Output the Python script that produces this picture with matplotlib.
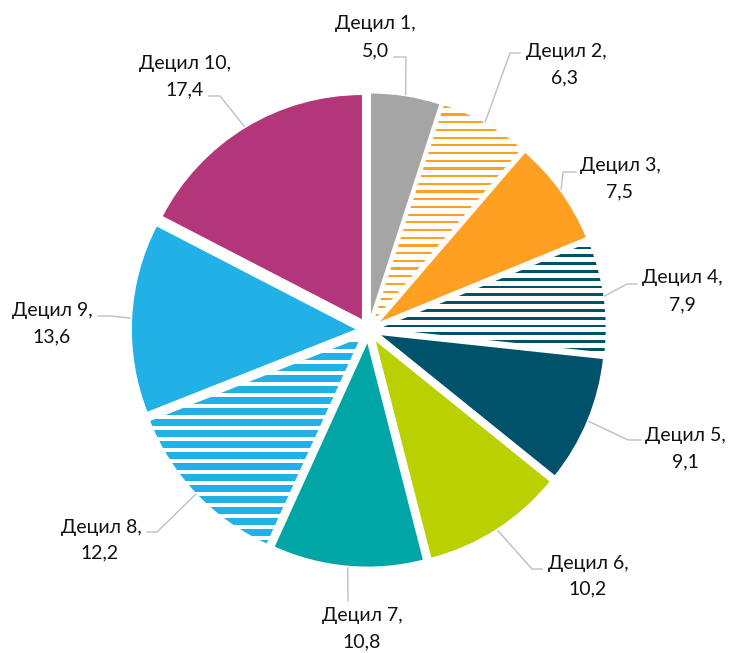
import matplotlib
matplotlib.use('Agg')
import matplotlib.pyplot as plt
import numpy as np
from matplotlib.patches import Rectangle

# ---- data ----
labels = ['Децил 1', 'Децил 2', 'Децил 3', 'Децил 4', 'Децил 5',
          'Децил 6', 'Децил 7', 'Децил 8', 'Децил 9', 'Децил 10']
values = [5.0, 6.3, 7.5, 7.9, 9.1, 10.2, 10.8, 12.2, 13.6, 17.4]
value_text = ['5,0', '6,3', '7,5', '7,9', '9,1', '10,2', '10,8', '12,2', '13,6', '17,4']

# ---- style ----
colors = ['#A5A5A5', '#FFA022', '#FFA022', '#00526A', '#00526A',
          '#BAD000', '#00A5A6', '#22B1E7', '#22B1E7', '#B3367A']
# stripe (period_px, thickness_px) for hatched slices
stripes = {1: (7.7, 2.2), 3: (7.8, 2.8), 7: (11.0, 6.8)}

W, H = 730, 653
CX, CY, SCALE = 368.5, 330.0, 226.0   # pixel centre / pixels per unit


def px(x, y):
    return ((x - CX) / SCALE, (CY - y) / SCALE)


fig = plt.figure(figsize=(W / 100, H / 100), dpi=100)
ax = fig.add_axes([0, 0, 1, 1])

wedges, _ = ax.pie(values, startangle=90, counterclock=False,
                   explode=[0.05] * len(values), radius=1.0, colors=colors,
                   wedgeprops=dict(linewidth=1.0, edgecolor='white'))

ax.set_xlim(-CX / SCALE, (W - CX) / SCALE)
ax.set_ylim(-(H - CY) / SCALE, CY / SCALE)
ax.set_aspect('equal')
ax.axis('off')

for i, (period, thick) in stripes.items():
    w = wedges[i]
    w.set_facecolor('white')
    p = period / SCALE
    t = thick / SCALE
    for y in np.arange(-1.3, 1.3, p):
        r = Rectangle((-1.4, y), 2.8, t, facecolor=colors[i], edgecolor='none', zorder=w.get_zorder() + 0.1)
        ax.add_patch(r)
        r.set_clip_path(w)

# ---- labels (pixel layout) ----
# line1 centre, line2 centre, elbow, end near text
layout = [
    ((375, 24), (375, 51), (406, 57), (394, 57)),
    ((566, 52), (564, 78), (510, 53), (520, 53)),
    ((620, 166), (620, 192), (563, 172), (576, 172)),
    ((682, 278), (682, 305), (627, 284), (637, 284)),
    ((685, 436), (685, 462), (628, 440), (641, 440)),
    ((588, 563), (588, 589), (532, 569), (542, 569)),
    ((362, 616), (362, 642), (348, 601), (348, 601)),
    ((101, 527), (100, 553), (157, 532), (147, 532)),
    ((52, 311), (52, 337), (110, 316), (98, 316)),
    ((185, 64), (185, 90), (220, 96), (209, 96)),
]

font = dict(family=['Lato', 'DejaVu Sans'], fontsize=14, color='#111111',
            ha='center', va='center')

for i, w in enumerate(wedges):
    l1, l2, elbow, end = layout[i]
    ax.text(*px(*l1), labels[i] + ',', **font)
    ax.text(*px(*l2), value_text[i], **font)
    ang = np.deg2rad((w.theta1 + w.theta2) / 2)
    cx, cy = w.center
    ax0 = cx + w.r * np.cos(ang)
    ay0 = cy + w.r * np.sin(ang)
    ex, ey = px(*elbow)
    tx, ty = px(*end)
    ax.plot([ax0, ex, tx], [ay0, ey, ty], color='#BFBFBF', lw=1.0, zorder=0.5)

fig.savefig('out.png', dpi=100)
